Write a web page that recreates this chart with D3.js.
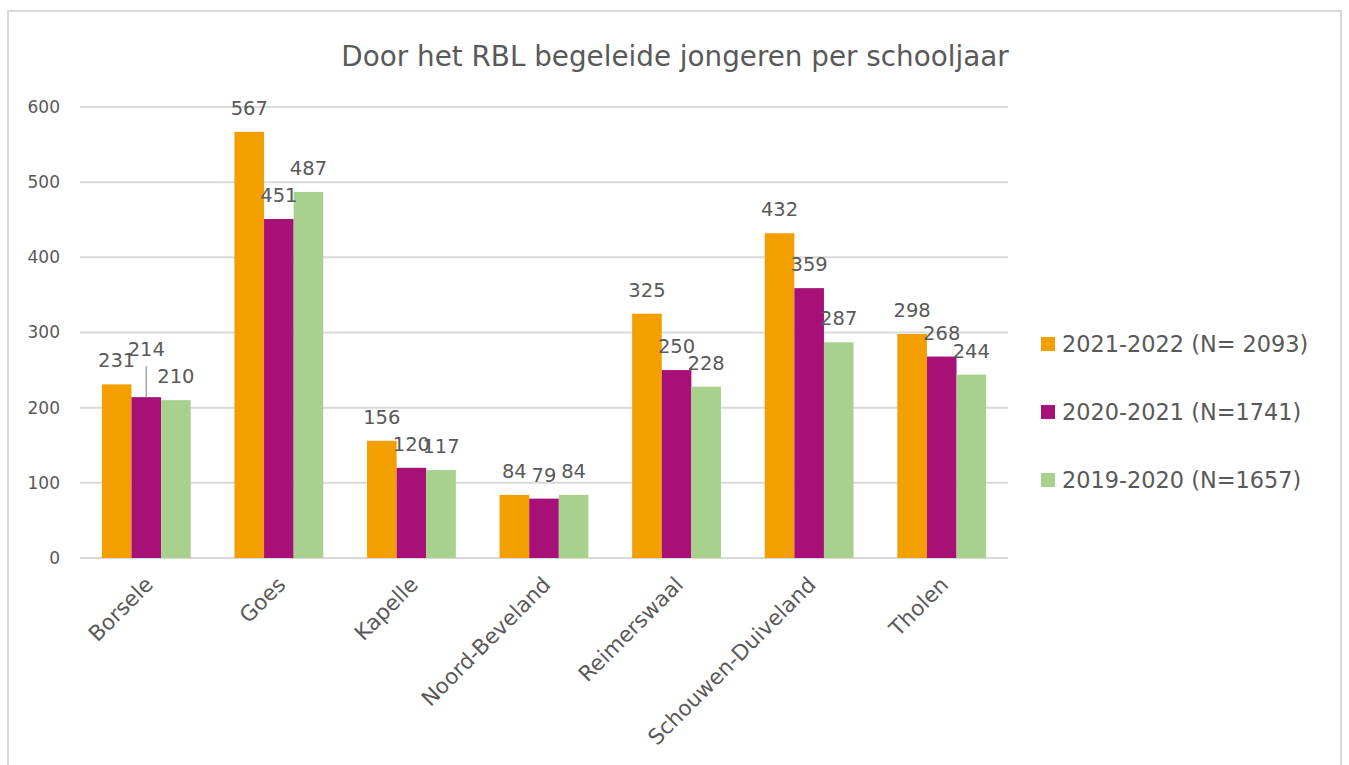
<!DOCTYPE html>
<html>
<head>
<meta charset="utf-8">
<script src="https://cdn.jsdelivr.net/npm/d3@7"></script>
<style>
  body { margin: 0; background: #fff; }
  text { font-family: "DejaVu Sans", Verdana, sans-serif; fill: #595959; }
</style>
</head>
<body>
<div id="chart"></div>
<script>
// data
const categories = ["Borsele", "Goes", "Kapelle", "Noord-Beveland", "Reimerswaal", "Schouwen-Duiveland", "Tholen"];
const seriesNames = ["2021-2022 (N= 2093)", "2020-2021 (N=1741)", "2019-2020 (N=1657)"];
const values2122 = [231, 567, 156, 84, 325, 432, 298];
const values2021 = [214, 451, 120, 79, 250, 359, 268];
const values1920 = [210, 487, 117, 84, 228, 287, 244];
const yTicks = [0, 100, 200, 300, 400, 500, 600];
const colors = ["#f39f00", "#a61077", "#a9d18e"];

const allSeries = [values2122, values2021, values1920];

var width = 1349, height = 765;
var svg = d3.select("#chart").append("svg")
    .attr("width", width)
    .attr("height", height);

// outer frame
svg.append("rect")
    .attr("x", 8).attr("y", 11)
    .attr("width", 1333).attr("height", 800)
    .attr("fill", "none")
    .attr("stroke", "#d9d9d9")
    .attr("stroke-width", 2);

svg.append("text")
    .attr("x", 675).attr("y", 66)
    .attr("text-anchor", "middle")
    .attr("font-size", "27.8px")
    .text("Door het RBL begeleide jongeren per schooljaar");

var x0 = d3.scaleBand().domain(categories).range([80, 1008])
    .paddingInner(0.33).paddingOuter(0.165);
var x1 = d3.scaleBand().domain([0, 1, 2]).range([0, x0.bandwidth()]);
var y = d3.scaleLinear().domain([0, 600]).range([558, 107]);

// gridlines
svg.selectAll("line.grid")
    .data(yTicks)
    .enter()
    .append("line")
    .attr("class", "grid")
    .attr("x1", 80).attr("x2", 1008)
    .attr("y1", function (d) { return y(d); })
    .attr("y2", function (d) { return y(d); })
    .attr("stroke", "#d9d9d9")
    .attr("stroke-width", 2);

var yAxis = d3.axisLeft(y).tickValues(yTicks).tickSize(0).tickPadding(20);
var gy = svg.append("g")
    .attr("transform", "translate(80,0)")
    .call(yAxis);
gy.select(".domain").remove();
gy.selectAll("text")
    .attr("font-size", "17px")
    .attr("font-family", null)
    .attr("fill", "#595959");

// bars
var groups = svg.selectAll("g.cat")
    .data(categories)
    .enter()
    .append("g")
    .attr("class", "cat")
    .attr("transform", function (d) { return "translate(" + x0(d) + ",0)"; });

groups.selectAll("rect")
    .data(function (d, i) { return allSeries.map(function (s, k) { return { k: k, v: s[i], cat: d }; }); })
    .enter()
    .append("rect")
    .attr("x", function (d) { return x1(d.k); })
    .attr("width", x1.bandwidth())
    .attr("y", function (d) { return y(d.v); })
    .attr("height", function (d) { return y(0) - y(d.v); })
    .attr("fill", function (d) { return colors[d.k]; });

// one label was dragged up in the original, with a leader line
var movedLabel = { cat: "Borsele", k: 1, dy: -24 };

groups.selectAll("text.val")
    .data(function (d, i) { return allSeries.map(function (s, k) { return { k: k, v: s[i], cat: d }; }); })
    .enter()
    .append("text")
    .attr("class", "val")
    .attr("text-anchor", "middle")
    .attr("font-size", "19.5px")
    .attr("x", function (d) { return x1(d.k) + x1.bandwidth() / 2; })
    .attr("y", function (d) {
        var off = (d.cat === movedLabel.cat && d.k === movedLabel.k) ? movedLabel.dy : 0;
        return y(d.v) - 17 + off;
    })
    .text(function (d) { return d.v; });

var mg = x0(movedLabel.cat) + x1(movedLabel.k) + x1.bandwidth() / 2;
var mv = allSeries[movedLabel.k][categories.indexOf(movedLabel.cat)];
svg.append("line")
    .attr("x1", mg).attr("x2", mg)
    .attr("y1", y(mv) - 17 + movedLabel.dy + 10)
    .attr("y2", y(mv))
    .attr("stroke", "#a6a6a6")
    .attr("stroke-width", 1.5);

// category labels
svg.selectAll("text.cat")
    .data(categories)
    .enter()
    .append("text")
    .attr("class", "cat")
    .attr("text-anchor", "end")
    .attr("font-size", "21.5px")
    .attr("transform", function (d) {
        return "translate(" + (x0(d) + x0.bandwidth() / 2 + 8) + ",586) rotate(-45)";
    })
    .text(function (d) { return d; });

// legend
var legend = svg.selectAll("g.leg")
    .data(seriesNames)
    .enter()
    .append("g")
    .attr("class", "leg")
    .attr("transform", function (d, i) { return "translate(1041," + (344 + i * 68) + ")"; });
legend.append("rect")
    .attr("x", 0).attr("y", -7)
    .attr("width", 14).attr("height", 14)
    .attr("fill", function (d, i) { return colors[i]; });
legend.append("text")
    .attr("x", 21).attr("y", 8)
    .attr("font-size", "22.4px")
    .text(function (d) { return d; });
</script>
</body>
</html>
